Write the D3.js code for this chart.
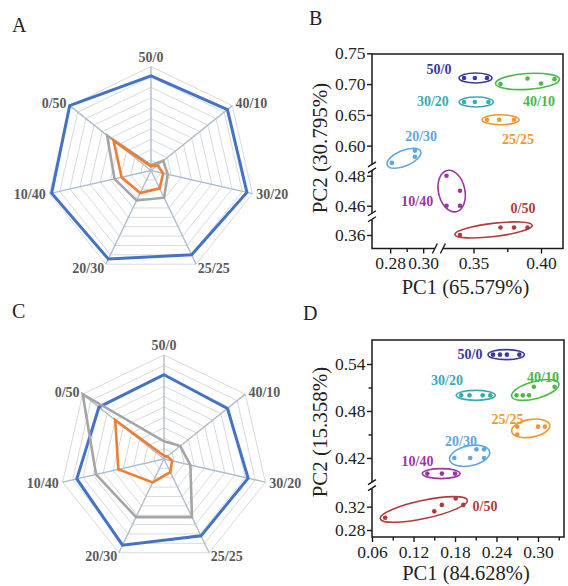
<!DOCTYPE html>
<html><head><meta charset="utf-8">
<script src="https://cdn.jsdelivr.net/npm/d3@7"></script>
<style>body{margin:0;background:#fff;} svg{display:block;font-family:"Liberation Serif","Times New Roman",serif;}</style>
</head><body><svg id="c" width="568" height="586"></svg>
<script>
// ---------- DATA ----------
const radarAxes = ["50/0","40/10","30/20","25/25","20/30","10/40","0/50"];
const radarA_blue   = [0.91,0.94,0.946,0.90,0.945,0.98,1.0];
const radarA_grey   = [0.05,0.15,0.165,0.29,0.32,0.36,0.54];
const radarA_orange = [0.04,0.08,0.12,0.19,0.24,0.29,0.46];
const radarC_blue   = [0.81,0.78,0.83,0.82,0.92,0.86,0.80];
const radarC_grey   = [0.17,0.20,0.26,0.62,0.62,0.67,1.0];
const radarC_orange = [0.03,0.04,0.08,0.14,0.25,0.45,0.60];
const radarLevels = [0.1,0.2,0.3,0.4,0.5,0.6,0.7,0.8,0.9,1.0];

const groupNames = ["50/0","40/10","30/20","25/25","20/30","10/40","0/50"];

// Panel B (PC1, PC2) per group
const B_50_0  = [[0.343,0.71],[0.351,0.71],[0.360,0.71]];
const B_40_10 = [[0.370,0.700],[0.390,0.709],[0.400,0.701],[0.410,0.708]];
const B_30_20 = [[0.343,0.671],[0.351,0.671],[0.361,0.671]];
const B_25_25 = [[0.360,0.642],[0.369,0.642],[0.380,0.642]];
const B_20_30 = [[0.281,0.572],[0.295,0.582],[0.295,0.592]];
const B_10_40 = [[0.330,0.480],[0.340,0.470],[0.330,0.460],[0.340,0.460]];
const B_0_50  = [[0.340,0.360],[0.370,0.365],[0.380,0.365],[0.390,0.365]];
const B_labelAt = [[0.3176,0.7245],[0.3985,0.6726],[0.3059,0.6718],[0.383,0.6109],[0.2988,0.6156],[0.2964,0.4631],[0.3867,0.4585]];
const B_xTicks = [0.28,0.30,0.35,0.40];
const B_xMinor = [0.29,0.375];
const B_yTicks = [0.36,0.46,0.48,0.60,0.65,0.70,0.75];

// Panel D
const D_50_0  = [[0.235,0.552],[0.245,0.552],[0.255,0.552],[0.273,0.552]];
const D_40_10 = [[0.269,0.500],[0.278,0.500],[0.287,0.500],[0.294,0.511],[0.324,0.511]];
const D_30_20 = [[0.189,0.500],[0.201,0.500],[0.220,0.500],[0.231,0.500]];
const D_25_25 = [[0.270,0.460],[0.270,0.450],[0.300,0.460],[0.310,0.460]];
const D_20_30 = [[0.179,0.420],[0.202,0.420],[0.211,0.431],[0.222,0.431],[0.222,0.420]];
const D_10_40 = [[0.140,0.400],[0.161,0.400],[0.180,0.400]];
const D_0_50  = [[0.079,0.301],[0.150,0.312],[0.161,0.323],[0.181,0.334],[0.192,0.323]];
const D_labelAt = [[0.2017,0.5528],[0.3072,0.5235],[0.1684,0.5196],[0.2559,0.4698],[0.1887,0.4417],[0.1258,0.4161],[0.2234,0.3209]];
const D_xTicks = [0.06,0.12,0.18,0.24,0.30];
const D_xMinor = [0.09,0.15,0.21,0.27,0.33];
const D_yTicks = [0.28,0.32,0.42,0.48,0.54];
const D_yMinor = [0.45,0.51];

// ---------- STYLE ----------
const groupColors = ["#3a3a9c","#4cb84a","#3aaab2","#f0962e","#5fa6de","#9c35a4","#b23a3c"];
const seriesColors = ["#4472c4","#a5a5a5","#ed7d31"];
const seriesWidths = [3,2.6,2.6];

const svg = d3.select("#c");
const R = 104;

function radar(cx, cy, series){
  const g = svg.append("g").attr("transform",`translate(${cx},${cy})`);
  const r = d3.scaleLinear().domain([0,1]).range([0,R]);
  const ang = i => i*2*Math.PI/radarAxes.length;
  const line = d3.lineRadial().angle((d,i)=>ang(i)).radius(d=>r(d)).curve(d3.curveLinearClosed);
  radarLevels.forEach(l=>{
    g.append("path").attr("d", line(radarAxes.map(()=>l))).attr("fill","none")
     .attr("stroke","#dadada").attr("stroke-width",1);
  });
  radarAxes.forEach((a,i)=>{
    const x = Math.sin(ang(i))*r(1), y = -Math.cos(ang(i))*r(1);
    g.append("line").attr("x1",0).attr("y1",0).attr("x2",x).attr("y2",y)
     .attr("stroke","#aebdce").attr("stroke-width",1.4);
    const lr = R+4, lx = Math.sin(ang(i))*lr, ly = -Math.cos(ang(i))*lr;
    const t = g.append("text").attr("x",lx).attr("y",ly).text(a)
      .attr("font-size",14).attr("font-weight","bold").attr("fill","#5a5a5a");
    if(i===0){ t.attr("text-anchor","middle").attr("dy","-0.05em"); }
    else { t.attr("text-anchor", lx>0?"start":"end").attr("dy","0.35em"); }
  });
  series.forEach((s,k)=>{
    g.append("path").attr("d", line(s)).attr("fill","none")
     .attr("stroke",seriesColors[k]).attr("stroke-width",seriesWidths[k]).attr("stroke-linejoin","miter");
  });
}
radar(151,170.5,[radarA_blue,radarA_grey,radarA_orange]);
radar(164,459,[radarC_blue,radarC_grey,radarC_orange]);

function ellipseFor(pts){
  const mx=d3.mean(pts,p=>p[0]), my=d3.mean(pts,p=>p[1]);
  let sxx=0,syy=0,sxy=0;
  pts.forEach(p=>{const dx=p[0]-mx, dy=p[1]-my; sxx+=dx*dx; syy+=dy*dy; sxy+=dx*dy;});
  const th = 0.5*Math.atan2(2*sxy, sxx-syy);
  const c=Math.cos(th), s=Math.sin(th);
  const u = pts.map(p=>(p[0]-mx)*c+(p[1]-my)*s), v = pts.map(p=>-(p[0]-mx)*s+(p[1]-my)*c);
  const [u0,u1]=d3.extent(u),[v0,v1]=d3.extent(v);
  const cu=(u0+u1)/2, cv=(v0+v1)/2;
  return {cx: mx+cu*c-cv*s, cy: my+cu*s+cv*c, a:(u1-u0)/2+5, b:Math.max(4.6,(v1-v0)/2+5), th: th*180/Math.PI};
}

function scatter(cfg){
  const {box,x,y,groups,labelAt,xTicks,xMinor,yTicks,yMinor,xBreaks,yBreaks,xTitle,yTitle,yTitleY} = cfg;
  const g = svg.append("g");
  g.append("rect").attr("x",box.l).attr("y",box.t).attr("width",box.r-box.l).attr("height",box.b-box.t)
   .attr("fill","none").attr("stroke","#1a1a1a").attr("stroke-width",1.5);
  g.append("g").attr("transform",`translate(0,${box.b})`)
    .call(d3.axisBottom(x).tickValues(xTicks).tickSize(5).tickPadding(3.5).tickFormat(d3.format(".2f")));
  g.append("g").attr("transform",`translate(0,${box.b})`)
    .call(d3.axisBottom(x).tickValues(xMinor).tickSize(3.5).tickFormat(""));
  g.append("g").attr("transform",`translate(${box.l},0)`)
    .call(d3.axisLeft(y).tickValues(yTicks).tickSize(5).tickPadding(1.5).tickFormat(d3.format(".2f")));
  if(yMinor) g.append("g").attr("transform",`translate(${box.l},0)`)
    .call(d3.axisLeft(y).tickValues(yMinor).tickSize(3.5).tickFormat(""));
  g.selectAll(".domain").remove();
  g.selectAll(".tick line").attr("stroke","#1a1a1a").attr("stroke-width",1.4);
  g.selectAll(".tick text").attr("font-family","Liberation Serif, serif").attr("font-size",17.5).attr("fill","#222");
  xBreaks.forEach(xb=>{
    g.append("rect").attr("x",xb-4).attr("y",box.b-2).attr("width",8).attr("height",4).attr("fill","#fff");
    [-4,4].forEach(o=>g.append("line").attr("x1",xb+o-2.5).attr("y1",box.b+5).attr("x2",xb+o+2.5).attr("y2",box.b-5)
      .attr("stroke","#1a1a1a").attr("stroke-width",1.4));
  });
  yBreaks.forEach(yb=>{
    g.append("rect").attr("x",box.l-2).attr("y",yb-3).attr("width",4).attr("height",6).attr("fill","#fff");
    [-3,3].forEach(o=>g.append("line").attr("x1",box.l-4).attr("y1",yb+o+2.5).attr("x2",box.l+4).attr("y2",yb+o-2.5)
      .attr("stroke","#1a1a1a").attr("stroke-width",1.4));
  });
  groups.forEach((pts,i)=>{
    const px = pts.map(p=>[x(p[0]),y(p[1])]);
    const e = ellipseFor(px);
    g.append("ellipse").attr("cx",e.cx).attr("cy",e.cy).attr("rx",e.a).attr("ry",e.b)
     .attr("transform",`rotate(${e.th},${e.cx},${e.cy})`)
     .attr("fill","none").attr("stroke",groupColors[i]).attr("stroke-width",1.6);
    g.selectAll(null).data(px).enter().append("circle").attr("cx",d=>d[0]).attr("cy",d=>d[1]).attr("r",2.3)
     .attr("fill",groupColors[i]);
    g.append("text").attr("x",x(labelAt[i][0])).attr("y",y(labelAt[i][1])).attr("dy","0.35em")
     .attr("text-anchor","middle").attr("font-size",14).attr("font-weight","bold")
     .attr("fill",groupColors[i]).text(groupNames[i]);
  });
  g.append("text").attr("x",(box.l+box.r)/2 - 2).attr("y",box.b+box.xTitleOff).attr("text-anchor","middle")
   .attr("font-size",20.5).attr("fill","#222").text(xTitle);
  g.append("text").attr("transform",`translate(327,${yTitleY}) rotate(-90)`).attr("text-anchor","middle")
   .attr("font-size",21).attr("fill","#222").text(yTitle);
}

// Panel B
const xB = d3.scaleLinear().domain([0.269,0.3065,0.328,0.416]).range([372,433.9,443.8,562.6]);
const yB = d3.scaleLinear().domain([0.351,0.372,0.4535,0.485,0.566,0.75]).range([248.5,217,215.5,168.2,166.6,53.3]);
scatter({box:{l:372,r:563,t:54,b:248.5,xTitleOff:45}, x:xB, y:yB,
  groups:[B_50_0,B_40_10,B_30_20,B_25_25,B_20_30,B_10_40,B_0_50], labelAt:B_labelAt,
  xTicks:B_xTicks, xMinor:B_xMinor, yTicks:B_yTicks, yMinor:null,
  xBreaks:[(xB(0.3065)+xB(0.328))/2], yBreaks:[(yB(0.372)+yB(0.4535))/2,(yB(0.485)+yB(0.566))/2],
  xTitle:"PC1 (65.579%)", yTitle:"PC2 (30.795%)", yTitleY:148});

// Panel D
const xD = d3.scaleLinear().domain([0.06,0.3376]).range([372,564]);
const yD = d3.scaleLinear().domain([0.268,0.352,0.389,0.5707]).range([537,488,482.2,340]);
scatter({box:{l:372,r:564,t:340,b:537,xTitleOff:43}, x:xD, y:yD,
  groups:[D_50_0,D_40_10,D_30_20,D_25_25,D_20_30,D_10_40,D_0_50], labelAt:D_labelAt,
  xTicks:D_xTicks, xMinor:D_xMinor, yTicks:D_yTicks, yMinor:D_yMinor,
  xBreaks:[], yBreaks:[(yD(0.352)+yD(0.389))/2],
  xTitle:"PC1 (84.628%)", yTitle:"PC2 (15.358%)", yTitleY:432});

[["A",12,32],["B",309,25],["C",12,318],["D",303,320]].forEach(([t,x,y])=>{
  svg.append("text").attr("x",x).attr("y",y).attr("font-size",20).attr("fill","#222").text(t);
});
</script></body></html>
